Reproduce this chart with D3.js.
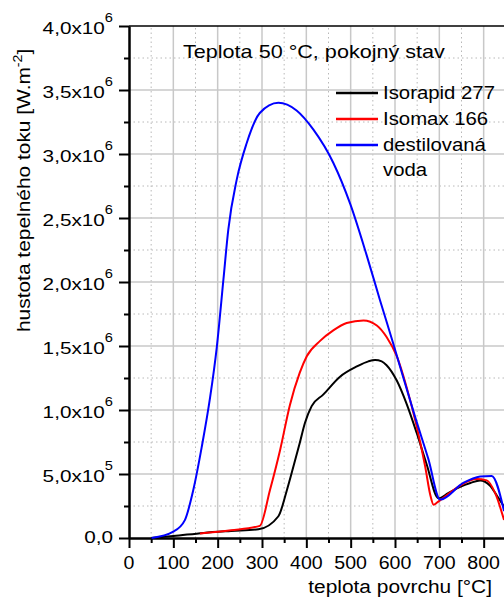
<!DOCTYPE html>
<html>
<head>
<meta charset="utf-8">
<script src="https://cdn.jsdelivr.net/npm/d3@7"></script>
<style>
  body { margin: 0; background: #fff; }
  svg { display: block; font-family: "Liberation Sans", Arial, sans-serif; }
</style>
</head>
<body>
<div id="chart"></div>
<script>
// data (heat flux in units of 10^6 W.m^-2)
var tIsorapid = [50, 100, 168, 230, 292, 337, 355, 371, 385, 397, 412, 438, 476, 514, 540, 555, 570, 581, 604, 626, 649, 671, 698, 720, 747, 770, 792, 814, 830, 846];
var qIsorapid = [0.0, 0.015, 0.04, 0.055, 0.068, 0.17, 0.36, 0.56, 0.74, 0.90, 1.03, 1.12, 1.26, 1.34, 1.38, 1.39, 1.38, 1.35, 1.23, 1.05, 0.82, 0.58, 0.31, 0.35, 0.40, 0.43, 0.45, 0.41, 0.33, 0.245];

var tIsomax = [160, 230, 295, 318, 341, 363, 385, 401, 431, 460, 491, 529, 559, 581, 604, 626, 649, 668, 680, 687, 696, 747, 784, 807, 826, 846];
var qIsomax = [0.035, 0.06, 0.095, 0.375, 0.69, 1.04, 1.29, 1.42, 1.54, 1.62, 1.68, 1.70, 1.66, 1.57, 1.42, 1.18, 0.87, 0.56, 0.33, 0.26, 0.28, 0.41, 0.46, 0.45, 0.35, 0.14];

var tVoda = [51, 100, 126, 145, 164, 183, 198, 213, 224, 243, 265, 295, 337, 378, 416, 461, 499, 536, 566, 596, 619, 645, 675, 702, 754, 792, 818, 846];
var qVoda = [0, 0.05, 0.14, 0.375, 0.71, 1.10, 1.49, 2.02, 2.41, 2.80, 3.08, 3.32, 3.40, 3.34, 3.19, 2.93, 2.61, 2.21, 1.86, 1.52, 1.25, 0.95, 0.62, 0.30, 0.43, 0.48, 0.485, 0.21];

var seriesNames = ["Isorapid 277", "Isomax 166", "destilovaná", "voda"];
var seriesColors = ["#000000", "#ff0000", "#0000ff"];

var xTicks = [0, 100, 200, 300, 400, 500, 600, 700, 800];
var xMinor = [50, 150, 250, 350, 450, 550, 650, 750, 850];
var yTicks = [0, 0.5, 1.0, 1.5, 2.0, 2.5, 3.0, 3.5, 4.0];
var yMinor = [0.25, 0.75, 1.25, 1.75, 2.25, 2.75, 3.25, 3.75];

var titleText = "Teplota 50 °C, pokojný stav";
var xTitle = "teplota povrchu [°C]";
var yTitle = "hustota tepelného toku [W.m";

var W = 504, H = 598;
var svg = d3.select("#chart").append("svg")
    .attr("width", W)
    .attr("height", H);

var x = d3.scaleLinear().domain([0, 900]).range([129, 528]);
var y = d3.scaleLinear().domain([0, 4]).range([538, 26]);

// text with a slight horizontal stretch like the original
function label(g, px, py, str, size, sx, anchor) {
  return g.append("text")
    .attr("transform", "translate(" + px + "," + py + ") scale(" + sx + ",1)")
    .attr("text-anchor", anchor)
    .style("font-size", size + "px")
    .attr("fill", "#000")
    .text(str);
}

// grid
var grid = svg.append("g");
grid.selectAll(".gxm").data(xMinor).enter().append("line")
  .attr("x1", d => x(d)).attr("x2", d => x(d))
  .attr("y1", y(0)).attr("y2", y(4))
  .attr("stroke", "#b8b8b8").attr("stroke-width", 1).attr("stroke-dasharray", "1.5,3");
grid.selectAll(".gym").data(yMinor).enter().append("line")
  .attr("x1", x(0)).attr("x2", x(900))
  .attr("y1", d => y(d)).attr("y2", d => y(d))
  .attr("stroke", "#b8b8b8").attr("stroke-width", 1).attr("stroke-dasharray", "1.5,3");
grid.selectAll(".gx").data(xTicks.slice(1)).enter().append("line")
  .attr("x1", d => x(d)).attr("x2", d => x(d))
  .attr("y1", y(0)).attr("y2", y(4))
  .attr("stroke", "#c8c8c8").attr("stroke-width", 1.5);
grid.selectAll(".gy").data(yTicks.slice(1, -1)).enter().append("line")
  .attr("x1", x(0)).attr("x2", x(900))
  .attr("y1", d => y(d)).attr("y2", d => y(d))
  .attr("stroke", "#c8c8c8").attr("stroke-width", 1.5);

// top border
svg.append("line")
  .attr("x1", x(0)).attr("x2", x(900))
  .attr("y1", y(4)).attr("y2", y(4))
  .attr("stroke", "#000").attr("stroke-width", 1.5);

// axes
function styleAxis(g) {
  g.selectAll("path").attr("stroke", "#000").attr("stroke-width", 2);
  g.selectAll("line").attr("stroke", "#000").attr("stroke-width", 2);
}
svg.append("g").attr("transform", "translate(0," + y(0) + ")")
  .call(d3.axisBottom(x).tickValues(xMinor).tickSize(5).tickSizeOuter(0).tickFormat(""))
  .call(styleAxis);
svg.append("g").attr("transform", "translate(0," + y(0) + ")")
  .call(d3.axisBottom(x).tickValues(xTicks).tickSize(10).tickSizeOuter(0).tickFormat(""))
  .call(styleAxis);
svg.append("g").attr("transform", "translate(" + x(0) + ",0)")
  .call(d3.axisLeft(y).tickValues(yMinor).tickSize(5).tickSizeOuter(0).tickFormat(""))
  .call(styleAxis);
svg.append("g").attr("transform", "translate(" + x(0) + ",0)")
  .call(d3.axisLeft(y).tickValues(yTicks).tickSize(10).tickSizeOuter(0).tickFormat(""))
  .call(styleAxis);

// x tick labels
var xl = svg.append("g");
xTicks.forEach(function (d) {
  label(xl, x(d), 569, String(d), 17.5, 1.12, "middle");
});

// y tick labels: mantissa x 10^exp
var yl = svg.append("g");
yTicks.forEach(function (d) {
  if (d === 0) {
    label(yl, 113, y(d) + 5, "0,0", 17, 1.22, "end");
    return;
  }
  var v = d * 1e6;
  var e = Math.floor(Math.log10(v));
  var m = (v / Math.pow(10, e)).toFixed(1).replace(".", ",");
  var t = label(yl, 113, y(d) + 8, "", 17, 1.22, "end");
  t.append("tspan").text(m + "x10");
  t.append("tspan").attr("dy", -12).style("font-size", "12px").text(e);
});

// axis titles
label(svg, 492, 593, xTitle, 19, 1.1, "end");
var yt = svg.append("text")
  .attr("transform", "translate(30,332) rotate(-90) scale(1.1,1)")
  .attr("text-anchor", "start")
  .style("font-size", "19px");
yt.append("tspan").text(yTitle);
yt.append("tspan").attr("dy", -8).style("font-size", "13px").text("-2");
yt.append("tspan").attr("dy", 8).text("]");

// curves
var line = d3.line()
  .x(d => x(d[0]))
  .y(d => y(d[1]))
  .curve(d3.curveMonotoneX);

var series = [
  d3.zip(tIsorapid, qIsorapid),
  d3.zip(tIsomax, qIsomax),
  d3.zip(tVoda, qVoda)
];
svg.append("g").selectAll("path").data(series).enter().append("path")
  .attr("d", line)
  .attr("fill", "none")
  .attr("stroke", (d, i) => seriesColors[i])
  .attr("stroke-width", 2)
  .attr("stroke-linejoin", "round");

// title
label(svg, 183, 58, titleText, 18, 1.2, "start");

// legend
var lg = svg.append("g");
var legendY = [93, 119, 145];
seriesColors.forEach(function (c, i) {
  lg.append("line")
    .attr("x1", 336).attr("x2", 378)
    .attr("y1", legendY[i]).attr("y2", legendY[i])
    .attr("stroke", c).attr("stroke-width", 2.5);
});
label(lg, 383, 99, seriesNames[0], 18.5, 1.1, "start");
label(lg, 383, 125, seriesNames[1], 18.5, 1.1, "start");
label(lg, 383, 151, seriesNames[2], 18.5, 1.1, "start");
label(lg, 383, 176, seriesNames[3], 18.5, 1.1, "start");
</script>
</body>
</html>
